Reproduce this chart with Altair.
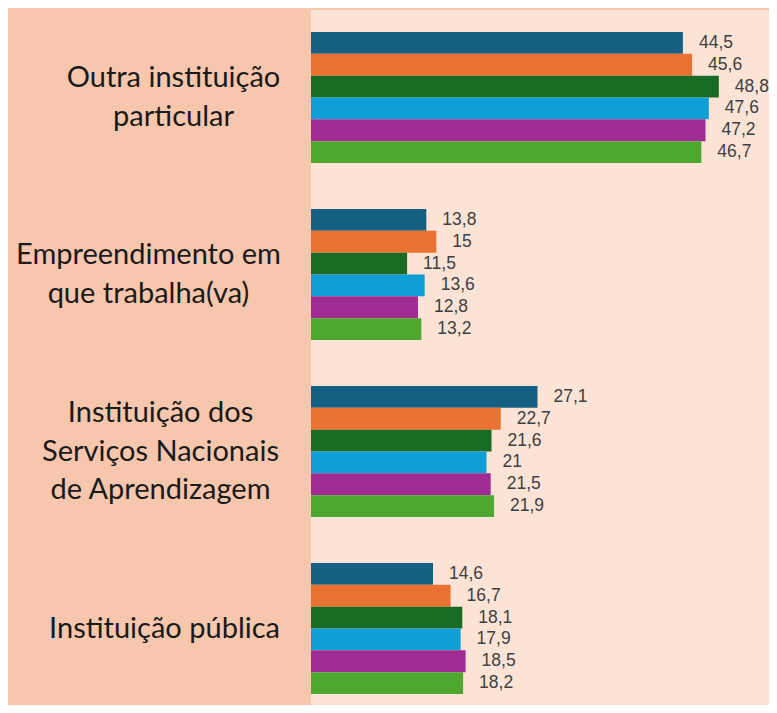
import altair as alt
import pandas as pd

categories = [
    "Outra instituição particular",
    "Empreendimento em que trabalha(va)",
    "Instituição dos Serviços Nacionais de Aprendizagem",
    "Instituição pública",
]
label_lines = [
    ["Outra instituição", "particular"],
    ["Empreendimento em", "que trabalha(va)"],
    ["Instituição dos", "Serviços Nacionais", "de Aprendizagem"],
    ["Instituição pública"],
]
label_pad = [138, 163, 151, 147]
series = ["Série 1", "Série 2", "Série 3", "Série 4", "Série 5", "Série 6"]
colors = ["#156082", "#E97132", "#196B24", "#0F9ED5", "#A02B93", "#4EA72E"]

v_outra = [44.5, 45.6, 48.8, 47.6, 47.2, 46.7]
v_empreend = [13.8, 15, 11.5, 13.6, 12.8, 13.2]
v_senai = [27.1, 22.7, 21.6, 21, 21.5, 21.9]
v_publica = [14.6, 16.7, 18.1, 17.9, 18.5, 18.2]
values = [v_outra, v_empreend, v_senai, v_publica]

rows = []
for c, vals in zip(categories, values):
    for s, v in zip(series, vals):
        rows.append({"categoria": c, "serie": s, "valor": v})
df = pd.DataFrame(rows)

LINE_H = 38.5
mapping = ", ".join(
    "'" + c + "': [" + ", ".join("'" + l + "'" for l in lines) + "]"
    for c, lines in zip(categories, label_lines)
)
label_expr = "{" + mapping + "}[datum.label]"

pad_cond = {
    "condition": [
        {"test": "datum.value === '" + c + "'", "value": p}
        for c, p in zip(categories, label_pad)
    ],
    "value": 151,
}
offset_cond = {
    "condition": [
        {"test": "datum.value === '" + c + "'", "value": -(len(lines) - 1) * LINE_H / 2}
        for c, lines in zip(categories, label_lines)
    ],
    "value": 0,
}

y_enc = alt.Y(
    "categoria:N",
    sort=categories,
    scale=alt.Scale(range=[22, 684], paddingInner=0.26, paddingOuter=0),
    axis=alt.Axis(
        title=None,
        ticks=False,
        domain=False,
        labelExpr=label_expr,
        labelAlign="center",
        labelBaseline="middle",
        labelPadding=pad_cond,
        labelOffset=offset_cond,
        labelFont="Lato",
        labelFontSize=29,
        labelLineHeight=LINE_H,
        labelColor="#1a1a1a",
        labelLimit=400,
    ),
)
x_enc = alt.X(
    "valor:Q",
    scale=alt.Scale(domain=[0, 54.8], nice=False),
    axis=None,
)

base = alt.Chart(df).encode(
    y=y_enc,
    x=x_enc,
    yOffset=alt.YOffset("serie:N", sort=series),
)

bars = base.mark_bar().encode(
    color=alt.Color(
        "serie:N",
        scale=alt.Scale(domain=series, range=colors),
        legend=None,
    )
)

labels = base.mark_text(
    align="left", baseline="middle", dx=16, font="Liberation Sans", fontSize=17.5, color="#404040"
).transform_calculate(
    rotulo="replace('' + datum.valor, '.', ',')"
).encode(text="rotulo:N")

chart = (
    alt.layer(bars, labels)
    .properties(
        width=458,
        height=695,
        autosize=alt.AutoSizeParams(type="none"),
        padding={"left": 303, "top": 2, "right": 0, "bottom": 0},
        background="#F6C6AD",
    )
    .configure_view(fill="#FBE3D6", stroke=None)
)

chart.save("out.html", embed_options={"renderer": "svg", "actions": False})
